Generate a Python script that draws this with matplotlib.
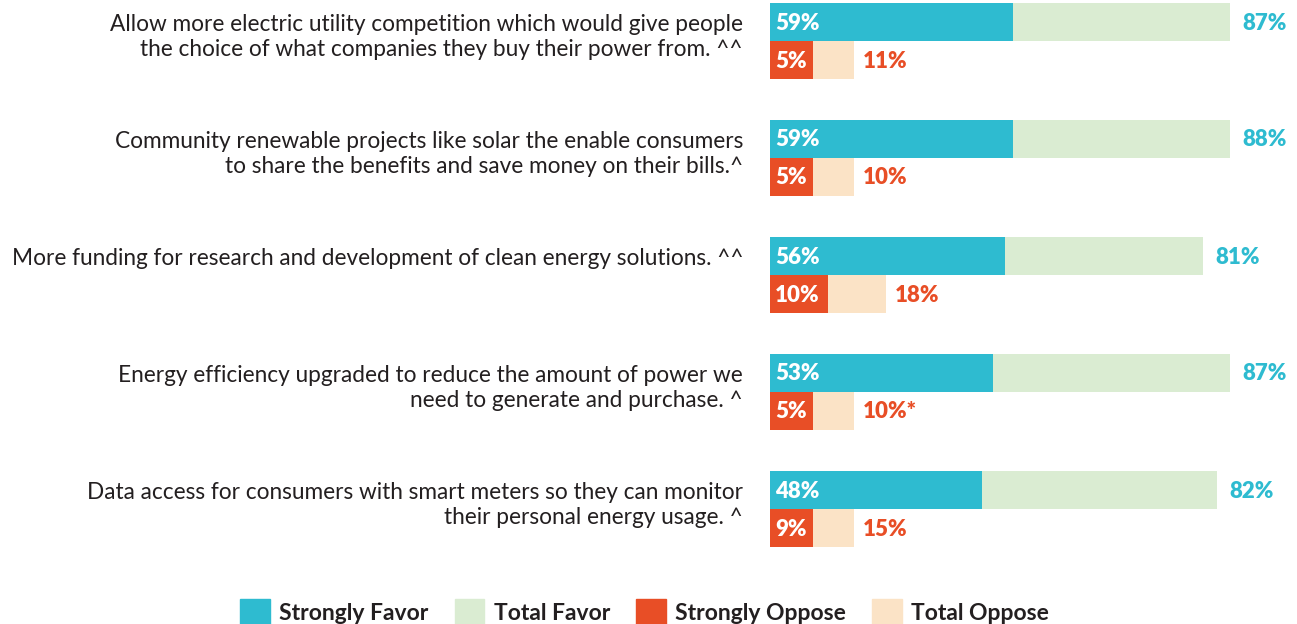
import matplotlib.pyplot as plt
from matplotlib.patches import Patch

plt.rcParams['font.family'] = ['Lato', 'DejaVu Sans']

# questions, top to bottom
categories = [
    "Allow more electric utility competition which would give people\nthe choice of what companies they buy their power from. ^^",
    "Community renewable projects like solar the enable consumers\nto share the benefits and save money on their bills.^",
    "More funding for research and development of clean energy solutions. ^^",
    "Energy efficiency upgraded to reduce the amount of power we\nneed to generate and purchase. ^",
    "Data access for consumers with smart meters so they can monitor\ntheir personal energy usage. ^",
]

# printed values
strong_favor = ["59%", "59%", "56%", "53%", "48%"]
total_favor = ["87%", "88%", "81%", "87%", "82%"]
strong_oppose = ["5%", "5%", "10%", "5%", "9%"]
total_oppose = ["11%", "10%", "18%", "10%*", "15%"]

# bar lengths as drawn in the source (its bars are not to scale with the labels)
strong_favor_len = [45.9, 45.9, 44.4, 42.2, 40.1]
total_favor_len = [87.0, 87.0, 81.9, 87.0, 84.5]
strong_oppose_len = [8.1, 8.1, 10.9, 8.1, 8.1]
total_oppose_len = [15.9, 15.9, 21.9, 15.9, 15.9]

TEAL = '#2EBBD0'
LGREEN = '#DAECD2'
RED = '#E84E26'
PEACH = '#FBE3C6'
TEXT = '#231F20'

W, H = 1297, 624
fig = plt.figure(figsize=(W / 100, H / 100), dpi=100)
x0 = 770
ax = fig.add_axes([x0 / W, 0, (W - x0) / W, 1])
px = 5.29  # pixels per unit
ax.set_xlim(0, (W - x0) / px)
ax.set_ylim(H, 0)
ax.axis('off')

pct = dict(fontsize=16, fontweight='heavy', va='center', ha='left')
row_gap, bar_h, top = 117, 38, 3
for i, cat in enumerate(categories):
    y = top + i * row_gap
    ax.barh(y, total_favor_len[i], height=bar_h, align='edge', color=LGREEN)
    ax.barh(y, strong_favor_len[i], height=bar_h, align='edge', color=TEAL)
    yo = y + bar_h
    ax.barh(yo, total_oppose_len[i], height=bar_h, align='edge', color=PEACH)
    ax.barh(yo, strong_oppose_len[i], height=bar_h, align='edge', color=RED)

    ax.text(5 / px, y + bar_h / 2 + 1, strong_favor[i], color='white', **pct)
    ax.text(total_favor_len[i] + 12 / px, y + bar_h / 2 + 1, total_favor[i], color=TEAL, **pct)
    ax.text(5 / px, yo + bar_h / 2 + 1, strong_oppose[i], color='white', **pct)
    ax.text(total_oppose_len[i] + 9 / px, yo + bar_h / 2 + 1, total_oppose[i], color=RED, **pct)

    ax.text(-27 / px, y + 11, cat, color=TEXT, fontsize=16.3, va='top', ha='right',
            multialignment='right', linespacing=1.22, clip_on=False)

handles = [Patch(color=TEAL), Patch(color=LGREEN), Patch(color=RED), Patch(color=PEACH)]
labels = ['Strongly Favor', 'Total Favor', 'Strongly Oppose', 'Total Oppose']
fig.legend(handles, labels, loc='lower center', bbox_to_anchor=(0.497, -0.035), ncol=4,
           frameon=False, prop={'weight': 'bold', 'size': 16.5}, handlelength=1.3,
           handleheight=1.35, handletextpad=0.4, columnspacing=1.15,
           labelcolor=TEXT)

fig.savefig('out.png', dpi=100)
